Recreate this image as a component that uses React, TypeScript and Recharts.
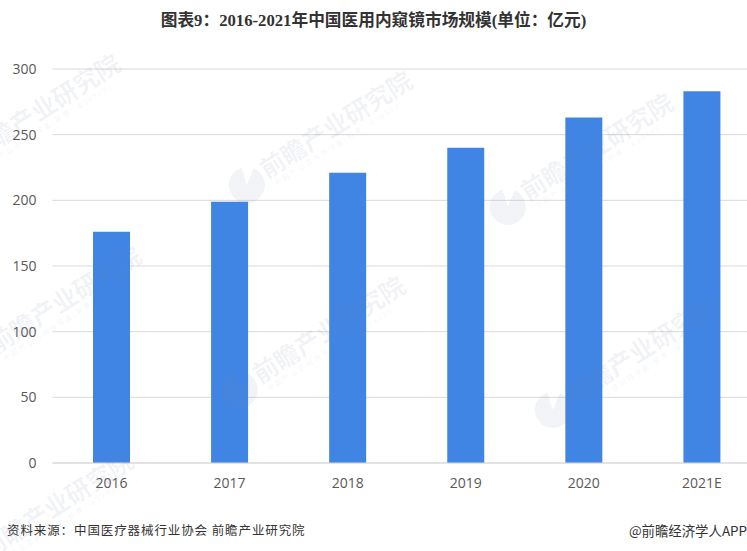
import React from 'react';
import { BarChart, Bar, XAxis, YAxis, CartesianGrid } from 'recharts';

const years = ['2016', '2017', '2018', '2019', '2020', '2021E'];
const marketSize = [176, 199, 221, 240, 263, 283];
const yTicks = [0, 50, 100, 150, 200, 250, 300];

const data = years.map((year, i) => ({ year, value: marketSize[i] }));

// watermark stamps: left end of the big text line
const stamps = [
  [-31, 153], [261, 170], [522, 192], [-10, 345], [254, 375], [567, 395], [-18, 550],
];

const cjk = '"Noto Sans CJK SC", "Noto Sans", sans-serif';
const latin = '"Open Sans", "Noto Sans CJK SC", sans-serif';
const markColor = 'rgba(110,125,160,0.09)';

function Stamp({ x, y }: { x: number; y: number }) {
  return (
    <div style={{ position: 'absolute', left: x, top: y, width: 0, height: 0, transform: 'rotate(-32.4deg)', transformOrigin: '0 0' }}>
      <div style={{ position: 'absolute', left: -38, top: -13, width: 36, height: 36, borderRadius: 18, background: `conic-gradient(${markColor} 0deg 15deg, transparent 15deg 55deg, ${markColor} 55deg 360deg)` }} />
      <div style={{ position: 'absolute', left: 0, top: -17, fontFamily: cjk, fontWeight: 700, fontSize: 25, lineHeight: '34px', color: markColor, whiteSpace: 'nowrap' }}>
        前瞻产业研究院
      </div>
      <div style={{ position: 'absolute', left: 4, top: 14, fontFamily: cjk, fontSize: 7.5, lineHeight: '10px', letterSpacing: 1.6, color: markColor, whiteSpace: 'nowrap' }}>
        中国产业咨询领导者(股票：839599)
      </div>
    </div>
  );
}

export default function App() {
  return (
    <div style={{ position: 'absolute', left: 0, top: 0, width: 747, height: 551, overflow: 'hidden', background: '#fff' }}>
      <div style={{ position: 'absolute', left: 0, top: 0 }}>
        <BarChart
          width={790}
          height={530}
          data={data}
          margin={{ top: 69, right: 29, left: 0, bottom: 37 }}
          barCategoryGap="34.3%"
        >
          <CartesianGrid vertical={false} stroke="#d9d9d9" />
          <XAxis
            dataKey="year"
            height={30}
            axisLine={{ stroke: '#d9d9d9' }}
            tickLine={false}
            tick={{ fill: '#595959', fontSize: 14, fontFamily: latin }}
            tickMargin={9}
          />
          <YAxis
            width={52.5}
            domain={[0, 300]}
            ticks={yTicks}
            axisLine={false}
            tickLine={false}
            tick={{ fill: '#595959', fontSize: 14, fontFamily: latin }}
            tickMargin={10}
          />
          <Bar dataKey="value" fill="#4185e4" isAnimationActive={false} />
        </BarChart>
      </div>
      {stamps.map(([x, y], i) => (
        <Stamp key={i} x={x} y={y} />
      ))}
      <div style={{ position: 'absolute', left: 0, width: 747, top: 7, textAlign: 'center', fontFamily: '"Liberation Serif", "Noto Sans CJK SC", serif', fontWeight: 700, fontSize: 16.7, color: '#333' }}>
        图表9：2016-2021年中国医用内窥镜市场规模(单位：亿元)
      </div>
      <div style={{ position: 'absolute', left: 7, top: 520, fontFamily: cjk, fontSize: 12.5, letterSpacing: 0.9, color: '#333', whiteSpace: 'nowrap' }}>
        资料来源：中国医疗器械行业协会 前瞻产业研究院
      </div>
      <div style={{ position: 'absolute', right: 0, top: 520, fontFamily: cjk, fontSize: 13.4, color: '#333', whiteSpace: 'nowrap' }}>
        @前瞻经济学人APP
      </div>
    </div>
  );
}
